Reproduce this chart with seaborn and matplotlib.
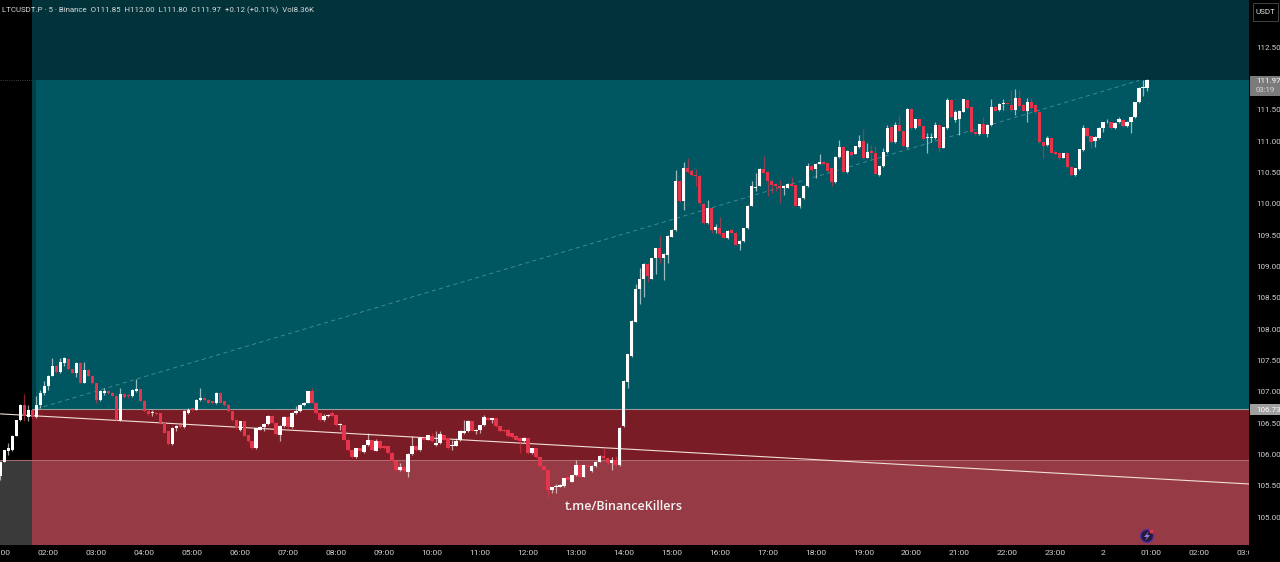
import numpy as np
import pandas as pd
import matplotlib
matplotlib.use("Agg")
import matplotlib.pyplot as plt
from matplotlib.patches import Rectangle, Ellipse, Polygon
import seaborn as sns

# 5 minute candles
opens = [
105.66,105.89,106.06,106.07,106.30,106.55,106.79,106.60,106.71,106.60,106.79,106.98,
107.10,107.26,107.41,107.32,107.46,107.52,107.36,107.31,107.46,107.15,107.35,107.26,
107.14,106.87,106.99,107.01,106.99,106.94,106.55,106.97,106.95,106.93,107.02,107.04,
106.86,106.69,106.66,106.67,106.66,106.50,106.37,106.17,106.42,106.47,106.44,106.67,
106.74,106.72,106.87,106.91,106.87,106.85,106.82,106.99,106.85,106.79,106.69,106.55,
106.39,106.53,106.31,106.21,106.10,106.40,106.44,106.49,106.62,106.51,106.31,106.45,
106.60,106.44,106.66,106.69,106.79,106.83,107.01,106.83,106.66,106.56,106.61,106.66,
106.63,106.47,106.47,106.24,106.07,105.97,106.10,106.04,106.15,106.23,106.06,106.21,
106.14,106.13,106.03,105.90,105.75,105.80,105.73,106.01,106.14,106.07,106.27,106.24,
106.30,106.15,106.18,106.31,106.26,106.13,106.14,106.23,106.34,106.37,106.53,106.38,
106.39,106.47,106.59,106.56,106.58,106.45,106.40,106.40,106.34,106.30,106.27,106.21,
106.26,106.02,106.10,105.96,105.82,105.76,105.43,105.48,105.49,105.50,105.65,105.57,
105.67,105.83,105.65,105.83,105.74,105.82,105.89,105.98,105.94,105.86,105.92,105.83,
106.45,107.16,107.57,108.12,108.65,108.80,109.04,108.81,109.13,109.29,109.13,109.18,
109.48,109.58,110.37,110.04,110.57,110.53,110.46,110.45,110.00,109.69,109.93,109.59,
109.61,109.54,109.45,109.59,109.54,109.36,109.41,109.61,109.97,110.25,110.29,110.55,
110.51,110.37,110.32,110.28,110.26,110.26,110.32,110.30,109.97,110.09,110.28,110.61,
110.55,110.64,110.67,110.65,110.57,110.35,110.75,110.91,110.51,110.83,110.80,110.91,
111.01,110.74,110.84,110.82,110.46,110.60,110.83,111.22,110.99,111.26,111.17,110.91,
111.52,111.21,111.35,111.24,111.05,111.05,111.05,111.26,110.90,111.21,111.66,111.34,
111.35,111.47,111.66,111.54,111.15,111.11,111.27,111.12,111.26,111.55,111.50,111.59,
111.61,111.58,111.50,111.69,111.58,111.49,111.63,111.58,111.47,110.99,110.94,111.05,
110.83,110.81,110.74,110.81,110.59,110.46,110.55,110.86,111.21,111.08,111.01,111.05,
111.21,111.30,111.30,111.21,111.30,111.34,111.24,111.31,111.38,111.62,111.85,111.85,
]
highs = [
105.90,106.08,106.18,106.31,106.56,106.80,106.97,106.79,106.72,106.93,107.03,107.17,
107.27,107.54,107.43,107.54,107.56,107.54,107.37,107.48,107.47,107.48,107.36,107.27,
107.15,107.03,107.06,107.02,107.00,106.95,107.06,106.98,106.97,107.04,107.20,107.05,
106.87,106.70,106.72,106.68,106.67,106.51,106.38,106.44,106.47,106.48,106.72,106.74,
106.75,106.88,107.06,106.92,106.88,106.86,107.00,107.00,106.86,106.80,106.70,106.56,
106.54,106.54,106.32,106.22,106.43,106.45,106.50,106.63,106.63,106.52,106.47,106.61,
106.61,106.68,106.78,106.80,106.84,107.02,107.06,106.84,106.67,106.65,106.65,106.70,
106.64,106.50,106.48,106.25,106.08,106.11,106.11,106.16,106.34,106.24,106.25,106.24,
106.15,106.14,106.04,105.91,105.86,105.81,106.02,106.29,106.15,106.28,106.28,106.32,
106.35,106.37,106.37,106.32,106.27,106.23,106.27,106.39,106.55,106.55,106.54,106.41,
106.48,106.63,106.60,106.59,106.59,106.46,106.41,106.41,106.35,106.31,106.28,106.28,
106.27,106.11,106.11,105.97,105.83,105.77,105.49,105.53,105.53,105.63,105.66,105.68,
105.92,105.84,105.84,105.84,105.83,105.90,105.99,106.10,105.95,105.97,105.98,106.44,
107.19,107.61,108.15,108.73,108.98,109.05,109.05,109.14,109.30,109.50,109.21,109.50,
109.60,110.54,110.38,110.67,110.73,110.56,110.55,110.46,110.01,110.06,109.94,109.68,
109.79,109.55,109.58,109.60,109.55,109.42,109.62,109.98,110.36,110.49,110.57,110.76,
110.52,110.38,110.33,110.38,110.29,110.33,110.43,110.31,110.10,110.30,110.66,110.62,
110.65,110.80,110.68,110.66,110.58,110.76,111.02,110.92,110.86,110.84,110.93,111.10,
111.20,110.97,110.94,110.92,110.61,110.89,111.26,111.23,111.31,111.42,111.18,111.53,
111.53,111.36,111.36,111.25,111.13,111.13,111.31,111.27,111.23,111.69,111.67,111.50,
111.50,111.68,111.67,111.55,111.16,111.28,111.39,111.27,111.68,111.56,111.61,111.68,
111.62,111.82,111.84,111.82,111.59,111.69,111.69,111.59,111.48,111.00,111.08,111.06,
110.84,110.82,110.82,110.82,110.60,110.58,110.88,111.26,111.22,111.09,111.08,111.22,
111.31,111.35,111.31,111.30,111.39,111.35,111.32,111.39,111.63,111.86,111.98,112.00,
]
lows = [
105.60,105.88,105.99,106.06,106.29,106.54,106.53,106.53,106.59,106.59,106.74,106.95,
107.03,107.25,107.31,107.31,107.42,107.35,107.30,107.24,107.14,107.14,107.25,107.13,
106.82,106.86,106.95,106.97,106.93,106.54,106.54,106.91,106.91,106.92,107.00,106.85,
106.68,106.64,106.61,106.64,106.49,106.34,106.16,106.16,106.38,106.43,106.43,106.65,
106.70,106.71,106.86,106.86,106.82,106.81,106.81,106.82,106.78,106.68,106.54,106.41,
106.38,106.29,106.20,106.09,106.09,106.39,106.37,106.48,106.50,106.32,106.22,106.44,
106.43,106.43,106.65,106.68,106.78,106.82,106.82,106.65,106.54,106.53,106.60,106.61,
106.46,106.39,106.23,106.06,105.95,105.95,106.04,106.03,106.14,106.06,106.05,106.09,
106.09,106.02,105.89,105.74,105.74,105.73,105.65,106.00,106.06,106.06,106.23,106.23,
106.20,106.14,106.17,106.23,106.09,106.07,106.13,106.22,106.33,106.36,106.37,106.33,
106.34,106.46,106.55,106.51,106.44,106.36,106.36,106.28,106.27,106.23,106.02,106.20,
106.01,106.01,105.95,105.81,105.75,105.33,105.39,105.38,105.48,105.49,105.59,105.56,
105.66,105.64,105.64,105.81,105.73,105.81,105.88,105.93,105.85,105.76,105.82,105.82,
106.44,107.06,107.56,108.11,108.41,108.52,108.76,108.80,108.89,109.05,108.79,109.05,
109.47,109.57,110.03,109.90,110.50,110.45,110.28,110.00,109.68,109.68,109.54,109.53,
109.51,109.45,109.44,109.53,109.34,109.26,109.40,109.60,109.96,110.20,110.28,110.49,
110.12,110.17,110.20,110.01,110.14,110.25,110.28,109.96,109.93,110.08,110.27,110.53,
110.41,110.63,110.63,110.52,110.28,110.34,110.74,110.50,110.50,110.77,110.79,110.90,
110.72,110.73,110.70,110.47,110.45,110.59,110.82,110.98,110.98,111.16,110.91,110.90,
111.20,111.20,111.23,111.02,110.81,110.99,111.04,110.83,110.89,111.20,111.37,111.31,
111.10,111.46,111.52,111.13,111.10,111.10,111.11,111.07,111.25,111.48,111.49,111.50,
111.59,111.49,111.42,111.55,111.48,111.31,111.52,111.45,110.98,110.73,110.93,110.81,
110.79,110.72,110.73,110.58,110.45,110.45,110.54,110.85,111.07,110.90,110.91,111.04,
111.15,111.29,111.20,111.20,111.29,111.23,111.23,111.13,111.37,111.61,111.72,111.80,
]
closes = [
105.89,106.07,106.10,106.30,106.55,106.79,106.61,106.71,106.60,106.79,106.99,107.10,
107.26,107.41,107.32,107.47,107.54,107.36,107.31,107.46,107.15,107.35,107.26,107.14,
106.87,107.01,107.01,106.98,106.94,106.55,106.97,106.92,106.93,107.03,107.04,106.86,
106.69,106.65,106.67,106.65,106.50,106.35,106.17,106.43,106.46,106.44,106.69,106.72,
106.71,106.87,106.91,106.87,106.83,106.82,106.99,106.83,106.79,106.69,106.55,106.42,
106.53,106.30,106.21,106.10,106.42,106.44,106.49,106.62,106.51,106.33,106.46,106.60,
106.44,106.67,106.70,106.79,106.83,107.01,106.83,106.66,106.55,106.62,106.63,106.62,
106.47,106.49,106.24,106.07,105.96,106.10,106.05,106.15,106.23,106.07,106.21,106.10,
106.10,106.03,105.90,105.75,105.80,105.74,106.01,106.14,106.07,106.27,106.24,106.31,
106.21,106.19,106.33,106.24,106.10,106.15,106.22,106.37,106.38,106.53,106.38,106.40,
106.47,106.60,106.56,106.58,106.45,106.37,106.37,106.29,106.28,106.24,106.21,106.26,
106.02,106.10,105.96,105.82,105.76,105.43,105.48,105.49,105.52,105.62,105.60,105.67,
105.83,105.65,105.83,105.82,105.82,105.89,105.98,105.94,105.86,105.91,105.83,106.43,
107.18,107.60,108.14,108.65,108.80,109.04,108.85,109.13,109.29,109.13,109.20,109.49,
109.59,110.37,110.04,110.58,110.51,110.46,110.45,110.01,109.69,109.93,109.58,109.63,
109.52,109.46,109.57,109.54,109.35,109.41,109.61,109.97,110.29,110.26,110.55,110.50,
110.36,110.30,110.28,110.25,110.28,110.32,110.29,109.97,110.09,110.29,110.61,110.54,
110.64,110.67,110.64,110.53,110.35,110.75,110.91,110.51,110.85,110.78,110.92,111.01,
110.73,110.83,110.82,110.48,110.60,110.83,111.21,110.99,111.26,111.17,110.92,111.52,
111.21,111.35,111.24,111.03,111.07,111.07,111.26,110.90,111.22,111.66,111.38,111.47,
111.49,111.67,111.53,111.14,111.11,111.27,111.12,111.26,111.55,111.49,111.60,111.60,
111.60,111.50,111.69,111.56,111.49,111.62,111.53,111.46,110.99,110.92,111.05,110.82,
110.80,110.73,110.81,110.59,110.46,110.57,110.87,111.21,111.08,110.99,111.07,111.21,
111.30,111.31,111.21,111.29,111.35,111.24,111.31,111.38,111.62,111.85,111.86,111.97,
]

hour_labels = ["01:00","02:00","03:00","04:00","05:00","06:00","07:00","08:00","09:00",
               "10:00","11:00","12:00","13:00","14:00","15:00","16:00","17:00","18:00",
               "19:00","20:00","21:00","22:00","23:00","2","01:00","02:00","03:00"]
price_ticks = [105.0,105.5,106.0,106.5,107.0,107.5,108.0,108.5,109.0,109.5,110.0,110.5,111.0,111.5,112.0,112.5]

entry_price = 111.97
low_level = 106.73
stop_level = 105.92
trend_x = [0, 313]
trend_y = [106.65, 105.53]
fib_x = [9, 285]
fib_y = [106.73, 111.97]

W, H = 1280, 562
PLOT_W, PLOT_H = 1249, 545
XMIN, XMAX = -0.125, 312.5
YMIN, YMAX = 104.558, 113.254
ZONE_X0, ZONE_X1 = 8.0, 9.0

UP = "#ffffff"
DOWN = "#e5354c"

df = pd.DataFrame({"o": opens, "h": highs, "l": lows, "c": closes})
df["i"] = np.arange(len(df))
df["bottom"] = df[["o", "c"]].min(axis=1)
df["body"] = (df["c"] - df["o"]).abs().clip(lower=0.015)
up = df[df["c"] >= df["o"]]
dn = df[df["c"] < df["o"]]

sns.set_theme(style="dark")
plt.rcParams["font.family"] = ["Roboto", "DejaVu Sans"]
fig = plt.figure(figsize=(W / 100, H / 100), dpi=100, facecolor="black")
ax = fig.add_axes([0, (H - PLOT_H) / H, PLOT_W / W, PLOT_H / H], facecolor="black")

# zones
ax.fill_between([ZONE_X0, XMAX], entry_price, YMAX, color="#02333b", lw=0, zorder=0.5)
ax.fill_between([ZONE_X0, ZONE_X1], low_level, entry_price, color="#024048", lw=0, zorder=0.5)
ax.fill_between([ZONE_X1, XMAX], low_level, entry_price, color="#005661", lw=0, zorder=0.5)
ax.fill_between([ZONE_X0, XMAX], stop_level, low_level, color="#7a1c25", lw=0, zorder=0.5)
ax.fill_between([ZONE_X0, XMAX], YMIN, stop_level, color="#963a45", lw=0, zorder=0.5)
ax.fill_between([XMIN, ZONE_X0], YMIN, stop_level, color="#3a3a3a", lw=0, zorder=0.5)
ax.axhline(low_level, color="#9a9a9a", lw=0.8, xmin=(ZONE_X0 - XMIN) / (XMAX - XMIN), zorder=1)
ax.axhline(stop_level, color="#b9767e", lw=0.6, zorder=1)
ax.axhline(entry_price, xmax=(ZONE_X0 - XMIN) / (XMAX - XMIN), color="#555555", lw=0.6, ls=":", zorder=1)

sns.lineplot(x=fib_x, y=fib_y, ax=ax, color="#4f8d95", lw=0.6, ls=(0, (5, 4)), zorder=1.5, legend=False)
sns.lineplot(x=trend_x, y=trend_y, ax=ax, color="#f0dfd8", lw=0.8, zorder=2, legend=False)

# wicks then bodies
ax.vlines(dn["i"], dn["l"], dn["h"], color=DOWN, alpha=0.6, lw=0.9, zorder=3)
ax.vlines(up["i"], up["l"], up["h"], color=UP, alpha=0.6, lw=0.9, zorder=3)
sns.barplot(data=dn, x="i", y="body", bottom=dn["bottom"].values, native_scale=True, errorbar=None,
            color=DOWN, saturation=1, width=0.85, linewidth=0, ax=ax, zorder=4)
sns.barplot(data=up, x="i", y="body", bottom=up["bottom"].values, native_scale=True, errorbar=None,
            color=UP, saturation=1, width=0.85, linewidth=0, ax=ax, zorder=4)

ax.set_xlim(XMIN, XMAX)
ax.set_ylim(YMIN, YMAX)
ax.set_xlabel("")
ax.set_ylabel("")
ax.grid(False)
for s in ax.spines.values():
    s.set_visible(False)
ax.set_xticks(np.arange(len(hour_labels)) * 12)
ax.set_xticklabels(hour_labels)
ax.yaxis.tick_right()
ax.set_yticks(price_ticks)
ax.set_yticklabels([f"{p:.2f}" for p in price_ticks])
ax.tick_params(axis="x", length=0, pad=3.8, labelsize=6.1, labelcolor="#d2d2d2")
ax.tick_params(axis="y", length=0, pad=5, labelsize=5.8, labelcolor="#d2d2d2")


def fx(px):
    return px / W


def fy(px):
    return 1 - px / H


# hides the clipped end of the last time label
fig.add_artist(Rectangle((fx(PLOT_W), 0), fx(W - PLOT_W), fy(PLOT_H), color="black", lw=0, zorder=5))

# header
fig.text(fx(2), fy(10), "LTCUSDT.P · 5 · Binance  O111.85  H112.00  L111.80  C111.97  +0.12 (+0.11%)  Vol8.36K",
         color="#d8dcdc", fontsize=5.7, va="center", ha="left", zorder=6)
fig.text(fx(565), fy(507), "t.me/BinanceKillers", color="#f2f2f2", fontsize=9,
         family=["Open Sans"], fontweight="semibold", va="center", ha="left", zorder=6)

# USDT box and price tags
fig.add_artist(Rectangle((fx(1253), fy(21)), fx(25), 18 / H, fc="black", ec="#444444", lw=0.7, zorder=6))
fig.text(fx(1265.5), fy(12), "USDT", color="#e0e0e0", fontsize=5.8, ha="center", va="center", zorder=7)
fig.add_artist(Rectangle((fx(PLOT_W + 1), fy(96)), fx(31), 20 / H, fc="#7b7b7b", lw=0, zorder=6))
fig.text(fx(1256), fy(81), "111.97", color="white", fontsize=5.8, va="center", zorder=7)
fig.text(fx(1256), fy(90.5), "03:19", color="#d8d8d8", fontsize=5.6, va="center", zorder=7)
fig.add_artist(Rectangle((fx(PLOT_W + 1), fy(415)), fx(31), 11 / H, fc="#a0a0a0", lw=0, zorder=6))
fig.text(fx(1256), fy(409.5), "106.73", color="white", fontsize=5.8, va="center", zorder=7)

# small icon near the bottom
fig.add_artist(Ellipse((fx(1147), fy(536)), 13 / W, 13 / H, fc="#241a3a", ec="#5a2d9c", lw=1, zorder=6))
bolt = [(1149, 531), (1144, 537), (1147, 537), (1145, 541), (1150, 535), (1147, 535)]
fig.add_artist(Polygon([(fx(a), fy(b)) for a, b in bolt], fc="#8f7be8", lw=0, zorder=7))
fig.add_artist(Ellipse((fx(1151.5), fy(531.5)), 4 / W, 4 / H, fc="#e5354c", lw=0, zorder=7))

fig.savefig("out.png", dpi=100, facecolor="black")
